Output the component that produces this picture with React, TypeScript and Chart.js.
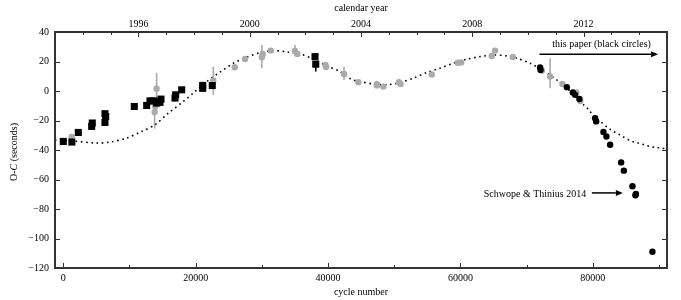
import React, { useEffect, useRef } from 'react';
import { Chart, registerables } from 'chart.js';

Chart.register(...registerables);

const FONT = '"Liberation Serif", "Times New Roman", serif';

// Black squares (earlier timings)
const squareCycles = [0, 1300, 2270, 4290, 4380, 6300, 6410, 6300, 10730, 12600, 13100, 13600, 14110, 14350, 14760, 14610, 16880, 16980, 17890, 21060, 21060, 22510, 38030, 38140];
const squareOC = [-34.2, -34.6, -28.1, -24.0, -21.7, -21.3, -17.3, -15.4, -10.5, -9.8, -6.7, -6.7, -8.2, -7.1, -5.5, -7.7, -4.8, -2.6, 0.8, 1.8, 3.8, 3.7, 23.3, 18.2];
const squareErrLo: (number | null)[] = [null, null, null, null, null, null, null, null, null, null, null, null, null, null, null, null, null, null, null, null, null, null, null, 13.2];
const squareErrHi: (number | null)[] = [null, null, null, null, null, null, null, null, null, null, null, null, null, null, null, null, null, null, null, null, null, null, null, 20.5];

// Grey circles (literature timings)
const greyCycles = [1270, 13800, 13900, 14100, 22660, 25900, 27460, 30000, 30130, 31340, 35010, 35360, 39600, 39700, 42410, 44580, 47360, 47400, 48350, 50700, 50950, 55670, 59600, 60100, 64730, 65230, 67910, 72300, 73540, 75400, 77500, 78100];
const greyOC = [-31.2, -14.3, -10.5, 1.5, 7.1, 16.1, 21.7, 22.9, 25.1, 27.4, 27.2, 25.1, 17.7, 16.2, 11.6, 6.0, 4.6, 3.8, 3.0, 6.0, 4.8, 11.2, 19.2, 19.4, 23.8, 27.4, 23.1, 13.8, 9.8, 4.8, -1.0, -6.8];
const greyErrLo: (number | null)[] = [null, -25.5, null, -10.7, -2.6, null, null, 15.5, null, null, 24.0, null, null, null, 7.5, null, null, null, null, null, null, null, null, null, null, null, null, null, 1.9, null, null, null];
const greyErrHi: (number | null)[] = [null, -4.0, null, 12.3, 16.5, null, null, 31.2, null, null, 31.2, null, null, null, 16.5, null, null, null, null, null, null, null, null, null, null, null, null, null, 22.2, null, null, null];

// Black circles (this paper)
const paperCycles = [72030, 72100, 76070, 76970, 77320, 77970, 80340, 80500, 81600, 82050, 82610, 84270, 84680, 85980, 86430, 86500, 89000];
const paperOC = [15.9, 14.3, 2.6, -1.0, -2.6, -5.4, -18.4, -20.6, -27.8, -30.8, -36.4, -48.4, -54.0, -64.6, -70.7, -69.8, -109.0];

// Dotted model curve
const modelCycles = [-1250, 1770, 5050, 7060, 9580, 11850, 13860, 15870, 18130, 19640, 21670, 23680, 25690, 27710, 29720, 31730, 33760, 35770, 37780, 39800, 41810, 43500, 44830, 46840, 48870, 50880, 52890, 54910, 56920, 58930, 60950, 62960, 64970, 67000, 68510, 70520, 72530, 74550, 76000, 77300, 78620, 79380, 80080, 81090, 82350, 83110, 83860, 84620, 85370, 86130, 86880, 87750, 88550, 89410, 90160, 91200];
const modelOC = [-33.3, -34.0, -35.3, -34.6, -31.9, -27.4, -22.9, -15.0, -7.1, -1.4, 6.4, 12.8, 18.8, 22.9, 26.0, 27.4, 26.5, 25.1, 21.5, 17.0, 13.2, 8.0, 6.4, 4.8, 4.2, 5.7, 8.7, 12.5, 15.5, 18.8, 21.5, 23.3, 24.4, 23.8, 22.2, 18.8, 13.8, 7.5, 2.2, -3.2, -9.4, -12.7, -16.8, -20.6, -25.1, -27.4, -29.2, -31.2, -33.0, -34.4, -35.3, -36.4, -37.6, -38.2, -38.6, -39.3];

// Axes and ticks
const cycleMin = -1250;
const cycleMax = 91200;
const yearMin = 1993;
const yearMax = 2015;
const ocMin = -120;
const ocMax = 40;
const cycleTicks = [0, 10000, 20000, 30000, 40000, 50000, 60000, 70000, 80000, 90000];
const cycleLabels = [0, 20000, 40000, 60000, 80000];
const yearTicks = [1994, 1995, 1996, 1997, 1998, 1999, 2000, 2001, 2002, 2003, 2004, 2005, 2006, 2007, 2008, 2009, 2010, 2011, 2012, 2013, 2014];
const yearLabels = [1996, 2000, 2004, 2008, 2012];
const ocTicks = [-120, -100, -80, -60, -40, -20, 0, 20, 40];

const toPts = (xs: number[], ys: number[]) => xs.map((x, i) => ({ x, y: ys[i] }));
const minus = (v: number) => (v < 0 ? '\u2212' + Math.abs(v) : String(v));

const errorBars = {
  id: 'errorBars',
  beforeDatasetsDraw(chart: any) {
    const ctx = chart.ctx;
    const xs = chart.scales.x;
    const ys = chart.scales.y;
    chart.data.datasets.forEach((ds: any) => {
      if (!ds.errLo) return;
      ctx.save();
      ctx.strokeStyle = ds.errColor;
      ctx.lineWidth = 1.6;
      ds.data.forEach((p: any, j: number) => {
        const lo = ds.errLo[j];
        const hi = ds.errHi[j];
        if (lo == null || hi == null) return;
        const px = xs.getPixelForValue(p.x);
        ctx.beginPath();
        ctx.moveTo(px, ys.getPixelForValue(lo));
        ctx.lineTo(px, ys.getPixelForValue(hi));
        ctx.stroke();
      });
      ctx.restore();
    });
  },
};

function arrow(ctx: CanvasRenderingContext2D, x1: number, y: number, x2: number) {
  const dir = x2 > x1 ? 1 : -1;
  const head = 7;
  ctx.beginPath();
  ctx.moveTo(x1, y);
  ctx.lineTo(x2 - dir * head, y);
  ctx.stroke();
  ctx.beginPath();
  ctx.moveTo(x2, y);
  ctx.lineTo(x2 - dir * head, y - 3);
  ctx.lineTo(x2 - dir * head, y + 3);
  ctx.closePath();
  ctx.fill();
}

const frameAndTicks = {
  id: 'frameAndTicks',
  afterDraw(chart: any) {
    const ctx: CanvasRenderingContext2D = chart.ctx;
    const { left, right, top, bottom } = chart.chartArea;
    const xs = chart.scales.x;
    const x2 = chart.scales.x2;
    const ys = chart.scales.y;
    ctx.save();
    ctx.strokeStyle = '#333';
    ctx.lineWidth = 1;
    cycleTicks.forEach((v) => {
      const px = Math.round(xs.getPixelForValue(v)) + 0.5;
      const len = cycleLabels.includes(v) ? 5 : 3;
      ctx.beginPath();
      ctx.moveTo(px, bottom);
      ctx.lineTo(px, bottom - len);
      ctx.stroke();
    });
    yearTicks.forEach((v) => {
      const px = Math.round(x2.getPixelForValue(v)) + 0.5;
      const len = yearLabels.includes(v) ? 5 : 3;
      ctx.beginPath();
      ctx.moveTo(px, top);
      ctx.lineTo(px, top + len);
      ctx.stroke();
    });
    ocTicks.forEach((v) => {
      const py = Math.round(ys.getPixelForValue(v)) + 0.5;
      ctx.beginPath();
      ctx.moveTo(left, py);
      ctx.lineTo(left + 5, py);
      ctx.moveTo(right, py);
      ctx.lineTo(right - 5, py);
      ctx.stroke();
    });
    ctx.lineWidth = 2;
    ctx.strokeRect(left, top, right - left, bottom - top);

    // y-axis title with italic C
    ctx.fillStyle = '#000';
    ctx.textBaseline = 'middle';
    const parts: [string, string][] = [
      ['O-', 'normal'],
      ['C', 'italic'],
      [' (seconds)', 'normal'],
    ];
    let total = 0;
    parts.forEach(([s, st]) => {
      ctx.font = `${st} 10px ${FONT}`;
      total += ctx.measureText(s).width;
    });
    ctx.translate(14, (top + bottom) / 2 + 2);
    ctx.rotate(-Math.PI / 2);
    let cx = -total / 2;
    ctx.textAlign = 'left';
    parts.forEach(([s, st]) => {
      ctx.font = `${st} 10px ${FONT}`;
      ctx.fillText(s, cx, 0);
      cx += ctx.measureText(s).width;
    });
    ctx.setTransform(1, 0, 0, 1, 0, 0);

    // annotations
    ctx.font = `10px ${FONT}`;
    ctx.fillStyle = '#000';
    ctx.strokeStyle = '#000';
    ctx.lineWidth = 1.5;
    ctx.textAlign = 'center';
    ctx.fillText('this paper (black circles)', xs.getPixelForValue(81320), ys.getPixelForValue(31.9));
    arrow(ctx, xs.getPixelForValue(71930), ys.getPixelForValue(24.9), xs.getPixelForValue(89850));
    ctx.textAlign = 'right';
    ctx.fillText('Schwope & Thinius 2014', xs.getPixelForValue(79000), ys.getPixelForValue(-70.2));
    arrow(ctx, xs.getPixelForValue(79850), ys.getPixelForValue(-69.1), xs.getPixelForValue(84530));
    ctx.restore();
  },
};

export default function App() {
  const ref = useRef<HTMLCanvasElement>(null);
  useEffect(() => {
    document.body.style.margin = '0';
    const tickFont = { family: FONT, size: 10 };
    const chart = new Chart(ref.current!, {
      type: 'scatter',
      data: {
        datasets: [
          {
            label: 'this paper',
            data: toPts(paperCycles, paperOC),
            backgroundColor: '#000',
            borderColor: '#000',
            borderWidth: 0,
            pointStyle: 'circle',
            pointRadius: 3.2,
          } as any,
          {
            label: 'earlier',
            data: toPts(squareCycles, squareOC),
            backgroundColor: '#000',
            borderColor: '#000',
            borderWidth: 0,
            pointStyle: 'rect',
            pointRadius: 5,
            errLo: squareErrLo,
            errHi: squareErrHi,
            errColor: '#000',
          } as any,
          {
            label: 'literature',
            data: toPts(greyCycles, greyOC),
            backgroundColor: '#aaaaaa',
            borderColor: '#aaaaaa',
            borderWidth: 0,
            pointStyle: 'circle',
            pointRadius: 3.2,
            errLo: greyErrLo,
            errHi: greyErrHi,
            errColor: '#aaaaaa',
          } as any,
          {
            label: 'model',
            data: toPts(modelCycles, modelOC),
            showLine: true,
            borderColor: '#000',
            borderWidth: 1.6,
            borderDash: [1.6, 3.6],
            borderCapStyle: 'butt',
            tension: 0.3,
            pointRadius: 0,
            fill: false,
          } as any,
        ],
      },
      options: {
        responsive: false,
        animation: false,
        layout: { padding: { left: 0, right: 14, top: 0, bottom: 0 } },
        plugins: { legend: { display: false }, tooltip: { enabled: false } },
        scales: {
          x: {
            type: 'linear',
            position: 'bottom',
            min: cycleMin,
            max: cycleMax,
            grid: { display: false, drawTicks: false },
            border: { display: false },
            afterBuildTicks: (s: any) => { s.ticks = cycleLabels.map((v) => ({ value: v })); },
            ticks: {
              autoSkip: false,
              maxRotation: 0,
              padding: 4,
              color: '#000',
              font: tickFont,
              callback: (v: any) => String(v),
            },
            title: { display: true, text: 'cycle number', color: '#000', font: tickFont, padding: { top: 0, bottom: 2 } },
            afterFit: (s: any) => { s.height = 32; },
          },
          x2: {
            type: 'linear',
            position: 'top',
            min: yearMin,
            max: yearMax,
            grid: { display: false, drawTicks: false },
            border: { display: false },
            afterBuildTicks: (s: any) => { s.ticks = yearLabels.map((v) => ({ value: v })); },
            ticks: {
              autoSkip: false,
              maxRotation: 0,
              padding: 2,
              color: '#000',
              font: tickFont,
              callback: (v: any) => String(v),
            },
            title: { display: true, text: 'calendar year', color: '#000', font: tickFont, padding: { top: 2, bottom: 0 } },
            afterFit: (s: any) => { s.height = 32; },
          },
          y: {
            type: 'linear',
            position: 'left',
            min: ocMin,
            max: ocMax,
            grid: { display: false, drawTicks: false },
            border: { display: false },
            afterBuildTicks: (s: any) => { s.ticks = ocTicks.map((v) => ({ value: v })); },
            ticks: {
              autoSkip: false,
              padding: 6,
              color: '#000',
              font: tickFont,
              callback: (v: any) => minus(Number(v)),
            },
            afterFit: (s: any) => { s.width = 55; },
          },
        },
      } as any,
      plugins: [errorBars, frameAndTicks],
    });
    return () => chart.destroy();
  }, []);
  return (
    <div style={{ width: 681, height: 300 }}>
      <canvas ref={ref} width={681} height={300} style={{ display: 'block' }} />
    </div>
  );
}
